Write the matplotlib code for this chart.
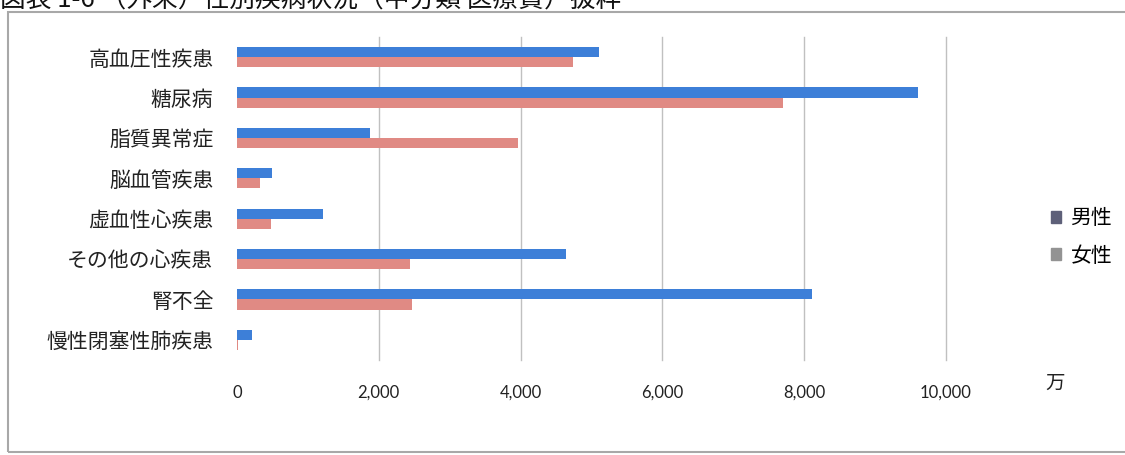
import matplotlib
matplotlib.use("Agg")
import matplotlib.pyplot as plt
import numpy as np
from matplotlib.patches import Patch, Rectangle

plt.rcParams['font.family'] = ['Noto Sans CJK JP', 'DejaVu Sans']

# 外来医療費（万円）
diseases = ["高血圧性疾患", "糖尿病", "脂質異常症", "脳血管疾患",
            "虚血性心疾患", "その他の心疾患", "腎不全", "慢性閉塞性肺疾患"]
male = [5100, 9610, 1880, 495, 1215, 4635, 8115, 210]
female = [4735, 7700, 3960, 325, 480, 2445, 2470, 20]
xticks = [0, 2000, 4000, 6000, 8000, 10000]

c_male = "#3d7fd8"
c_female = "#e08a84"

fig = plt.figure(figsize=(11.25, 4.55), dpi=100)
ax = fig.add_axes([237/1125, 1 - 360/455, 709/1125, 323/455])

y = np.arange(len(diseases))
h = 0.25
ax.barh(y - h/2, male, height=h, color=c_male, zorder=3)
ax.barh(y + h/2, female, height=h, color=c_female, zorder=3)

ax.set_ylim(len(diseases) - 0.5, -0.5)
ax.set_xlim(0, 10000)
ax.set_yticks(y)
ax.set_yticklabels(diseases, fontsize=15, color="#222222")
ax.set_xticks(xticks)
ax.set_xticklabels([f"{v:,}" for v in xticks], fontsize=12,
                   family=["Lato", "DejaVu Sans"], color="#222222")
ax.tick_params(axis="y", length=0, pad=17)
ax.tick_params(axis="x", length=0, pad=18)
for s in ax.spines.values():
    s.set_visible(False)
ax.grid(axis="x", color="#c0c0c0", linewidth=1, zorder=0)
grid = ax.xaxis.get_gridlines()
grid[0].set_visible(False)
for g in grid:
    g.set_clip_on(False)

fig.text(1055/1125, 1 - 383/455, "万", fontsize=14, ha="center", va="center",
         color="#222222")

handles = [Patch(color="#5e6079", label="男性"),
           Patch(color="#939393", label="女性")]
fig.legend(handles=handles, loc="center left",
           bbox_to_anchor=(1032/1125, 1 - 237/455), frameon=False,
           fontsize=15, handlelength=0.5, handleheight=0.5,
           handletextpad=0.45, labelspacing=0.75)

# 外枠
fig.add_artist(Rectangle((8/1125, 3/455), 1130/1125, 1 - 15/455,
                         transform=fig.transFigure, fill=False,
                         edgecolor="#a8a8a8", linewidth=1.5))

fig.text(0.0, 1 - 14/455, "図表 1-6 （外来）性別疾病状況（中分類 医療費）抜粋",
         fontsize=18.5, ha="left", va="bottom", color="#111111")

fig.savefig("out.png", dpi=100)
